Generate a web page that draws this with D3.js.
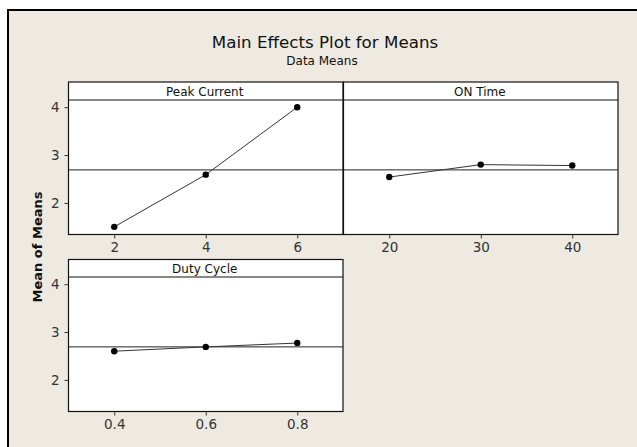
<!DOCTYPE html>
<html>
<head>
<meta charset="utf-8">
<script src="https://cdn.jsdelivr.net/npm/d3@7"></script>
<style>
  html, body { margin: 0; padding: 0; background: #ffffff; }
  svg { display: block; }
  text { font-family: "DejaVu Sans", Verdana, sans-serif; }
</style>
</head>
<body>
<script>
// Main effects of three factors on the mean response
const factors = ["Peak Current", "ON Time", "Duty Cycle"];
const peakCurrentLevels = [2, 4, 6];
const peakCurrentMeans = [1.50, 2.59, 4.00];
const onTimeLevels = [20, 30, 40];
const onTimeMeans = [2.54, 2.80, 2.78];
const dutyCycleLevels = [0.4, 0.6, 0.8];
const dutyCycleMeans = [2.60, 2.69, 2.77];
const grandMean = 2.69;
const yTicks = [2, 3, 4];
const yLabel = "Mean of Means";
const title = "Main Effects Plot for Means";
const subtitle = "Data Means";

const W = 637, H = 447;
const svg = d3.select("body").append("svg").attr("width", W).attr("height", H);

// window frame
svg.append("rect").attr("x", 8).attr("y", 10).attr("width", W - 8).attr("height", H - 10)
  .attr("fill", "#eeeae1");
svg.append("path").attr("d", `M8,${H} V10 H${W}`).attr("fill", "none")
  .attr("stroke", "#000").attr("stroke-width", 2);

svg.append("text").attr("x", 325).attr("y", 48).attr("text-anchor", "middle")
  .attr("font-size", 16.7).attr("fill", "#111").text(title);
svg.append("text").attr("x", 322).attr("y", 65).attr("text-anchor", "middle")
  .attr("font-size", 12).attr("fill", "#111").text(subtitle);

svg.append("text")
  .attr("transform", "translate(42,247) rotate(-90)")
  .attr("text-anchor", "middle").attr("font-size", 13).attr("font-weight", "bold")
  .attr("fill", "#111").text(yLabel);

const panels = [
  { name: factors[0], levels: peakCurrentLevels, means: peakCurrentMeans, xDomain: [1, 7], col: 0, row: 0, fmt: d3.format("d") },
  { name: factors[1], levels: onTimeLevels, means: onTimeMeans, xDomain: [15, 45], col: 1, row: 0, fmt: d3.format("d") },
  { name: factors[2], levels: dutyCycleLevels, means: dutyCycleMeans, xDomain: [0.3, 0.9], col: 0, row: 1, fmt: d3.format(".1f") }
];

const colX = [68.5, 343.5];
const colW = 274.5;
const rows = [
  { top: 82, head: 100, bottom: 234.5 },
  { top: 259.5, head: 277, bottom: 411.5 }
];
const yDomain = [1.34, 4.15];

panels.forEach(p => {
  const r = rows[p.row];
  const x0 = colX[p.col], x1 = x0 + colW;
  const g = svg.append("g");
  const x = d3.scaleLinear().domain(p.xDomain).range([x0, x1]);
  const y = d3.scaleLinear().domain(yDomain).range([r.bottom, r.head]);

  g.append("rect").attr("x", x0).attr("y", r.top).attr("width", colW).attr("height", r.bottom - r.top)
    .attr("fill", "#fff");

  // header strip
  g.append("line").attr("x1", x0).attr("x2", x1).attr("y1", r.head).attr("y2", r.head)
    .attr("stroke", "#111").attr("stroke-width", 1);
  g.append("text").attr("x", (x0 + x1) / 2 - 1).attr("y", r.top + 13.5).attr("text-anchor", "middle")
    .attr("font-size", 12).attr("fill", "#111").text(p.name);

  // reference line at the overall mean
  g.append("line").attr("x1", x0).attr("x2", x1).attr("y1", y(grandMean)).attr("y2", y(grandMean))
    .attr("stroke", "#222").attr("stroke-width", 1);

  const pts = p.levels.map((l, i) => [l, p.means[i]]);
  g.append("path").datum(pts)
    .attr("d", d3.line().x(d => x(d[0])).y(d => y(d[1])))
    .attr("fill", "none").attr("stroke", "#333").attr("stroke-width", 1);
  g.selectAll("circle").data(pts).join("circle")
    .attr("cx", d => x(d[0])).attr("cy", d => y(d[1])).attr("r", 3.2).attr("fill", "#000");

  // panel border
  g.append("rect").attr("x", x0).attr("y", r.top).attr("width", colW).attr("height", r.bottom - r.top)
    .attr("fill", "none").attr("stroke", "#111").attr("stroke-width", 1.2);

  // x axis
  const xa = g.append("g").attr("transform", `translate(0,${r.bottom})`)
    .call(d3.axisBottom(x).tickValues(p.levels).tickFormat(p.fmt).tickSize(4).tickPadding(4));
  xa.select(".domain").remove();
  xa.selectAll("line").attr("stroke", "#333");
  xa.selectAll("text").attr("font-size", 13.5).attr("fill", "#333")
    .attr("font-family", "'DejaVu Sans', sans-serif");

  if (p.col === 0) {
    const ya = g.append("g").attr("transform", `translate(${x0},0)`)
      .call(d3.axisLeft(y).tickValues(yTicks).tickFormat(d3.format("d")).tickSize(4).tickPadding(5));
    ya.select(".domain").remove();
    ya.selectAll("line").attr("stroke", "#333");
    ya.selectAll("text").attr("font-size", 13.5).attr("fill", "#333")
      .attr("font-family", "'DejaVu Sans', sans-serif");
  }
});
</script>
</body>
</html>
